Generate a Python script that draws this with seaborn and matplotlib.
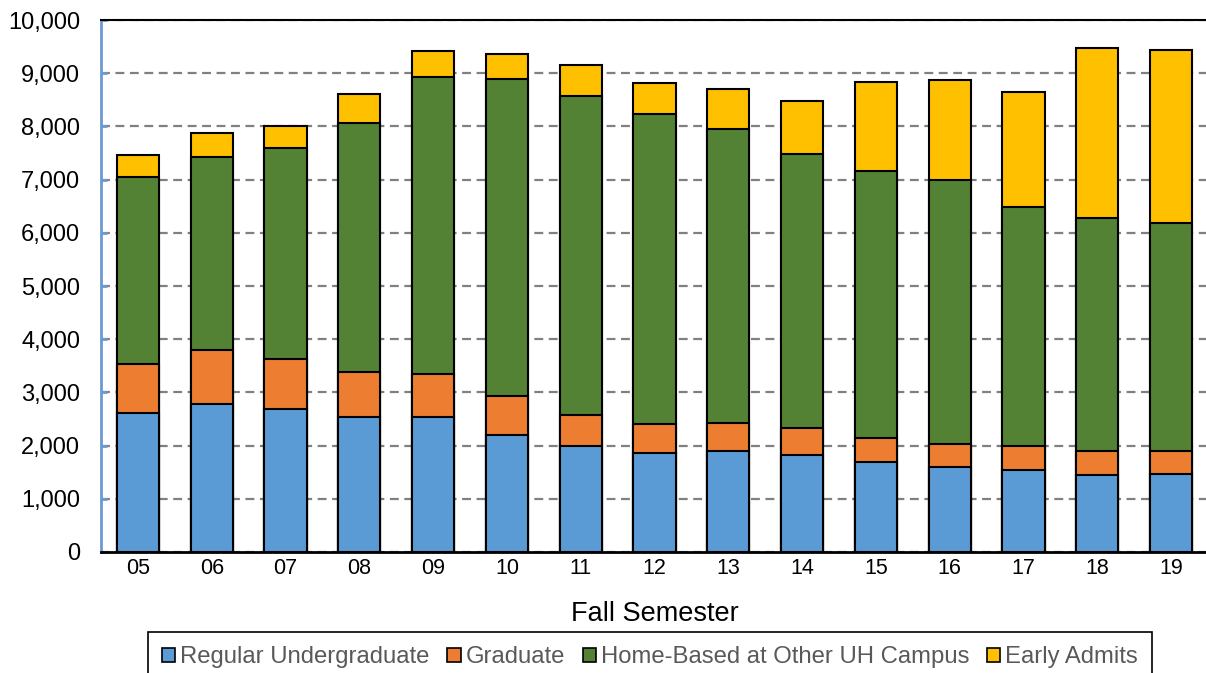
import matplotlib
matplotlib.use('Agg')
import matplotlib.pyplot as plt
import matplotlib.ticker as mticker
from matplotlib.patches import Patch
import numpy as np
import pandas as pd
import seaborn as sns

# ---- Données ----
semesters = ["05", "06", "07", "08", "09", "10", "11", "12", "13", "14", "15", "16", "17", "18", "19"]
regular_undergrad = [2610, 2780, 2690, 2530, 2540, 2200, 2000, 1855, 1900, 1830, 1690, 1590, 1550, 1440, 1460]
graduate = [920, 1020, 940, 860, 810, 740, 580, 545, 520, 510, 450, 440, 450, 450, 440]
home_based = [3520, 3630, 3960, 4670, 5580, 5960, 6000, 5830, 5540, 5140, 5020, 4970, 4490, 4380, 4290]
early_admits = [410, 450, 420, 550, 480, 470, 570, 580, 740, 1000, 1670, 1870, 2150, 3200, 3250]

series_names = ["Regular Undergraduate", "Graduate", "Home-Based at Other UH Campus", "Early Admits"]
series_colors = ["#5B9BD5", "#ED7D31", "#548235", "#FFC000"]

df = pd.DataFrame({
    "semester": semesters,
    series_names[0]: regular_undergrad,
    series_names[1]: graduate,
    series_names[2]: home_based,
    series_names[3]: early_admits,
})

# Cumul pour l'empilement (on dessine du plus haut au plus bas)
cum = df[series_names].cumsum(axis=1)

sns.set_style("white")
plt.rcParams['font.family'] = ['Liberation Sans', 'DejaVu Sans']

fig = plt.figure(figsize=(12.06, 6.73), dpi=100)
ax = fig.add_axes([101 / 1206, 121 / 673, 1107 / 1206, 532 / 673])

for name, color in reversed(list(zip(series_names, series_colors))):
    sns.barplot(x=df["semester"], y=cum[name], color=color, width=0.57,
                edgecolor="black", linewidth=1.5, saturation=1, ax=ax, zorder=3)

ax.set_ylim(0, 10000)
ax.set_xlim(-0.5, 14.5)
ax.yaxis.set_major_locator(mticker.MultipleLocator(1000))
ax.yaxis.set_major_formatter(mticker.StrMethodFormatter("{x:,.0f}"))

ax.grid(axis='y', color="#808080", linestyle=(0, (4, 2.5)), linewidth=1.6, zorder=0)
ax.grid(axis='x', visible=False)
ax.set_axisbelow(True)

ax.spines['right'].set_visible(False)
ax.spines['top'].set_color("black")
ax.spines['top'].set_linewidth(1.5)
ax.spines['bottom'].set_color("black")
ax.spines['bottom'].set_linewidth(2)
ax.spines['left'].set_color("#6A9BD0")
ax.spines['left'].set_linewidth(2)

ax.tick_params(axis='y', direction='in', length=4, width=2, color="#6A9BD0",
               labelsize=17, pad=15, left=True, labelcolor="black")
ax.tick_params(axis='x', length=0, labelsize=15.5, pad=4, labelcolor="black")

ax.set_ylabel("")
ax.set_xlabel("Fall Semester", fontsize=19.5, labelpad=16, color="black")

handles = [Patch(facecolor=c, edgecolor="black", linewidth=1.2, label=n)
           for n, c in zip(series_names, series_colors)]
leg = fig.legend(handles=handles, loc="upper center", bbox_to_anchor=(650 / 1206, 1 - 632 / 673),
                 ncol=4, fontsize=17.2, frameon=True, fancybox=False, framealpha=1,
                 edgecolor="black", handlelength=0.55, handleheight=0.55, borderaxespad=0,
                 handletextpad=0.2, columnspacing=0.75, borderpad=0.6, labelcolor="#595959")
leg.get_frame().set_linewidth(1.2)

plt.savefig("out.png", dpi=100)
plt.close()
